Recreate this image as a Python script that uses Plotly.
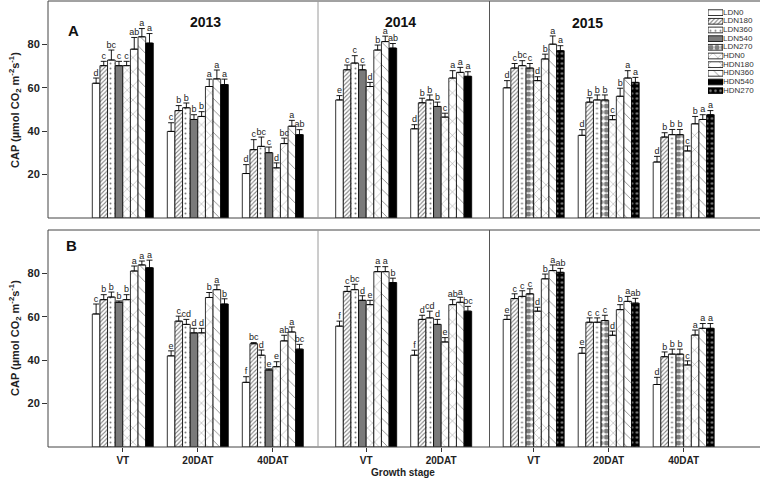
import plotly.graph_objects as go

# ---------------- data ----------------
stages_all = ["VT", "20DAT", "40DAT"]
years = ["2013", "2014", "2015"]
legend_names = ["LDN0", "LDN180", "LDN360", "LDN540", "LDN270",
                "HDN0", "HDN180", "HDN360", "HDN540", "HDN270"]
trt_1314 = ["LDN0", "LDN180", "LDN360", "LDN540", "HDN0", "HDN180", "HDN360", "HDN540"]
trt_15 = ["LDN0", "LDN180", "LDN360", "LDN270", "HDN0", "HDN180", "HDN360", "HDN270"]

# rows = growth stage, columns = treatment (order of trt list)
A2013_mean = [[62.1, 70.2, 72.8, 70.2, 70.2, 77.8, 83.5, 80.6],
              [39.9, 49.5, 50.8, 45.4, 46.8, 60.6, 64.1, 61.5],
              [20.5, 31.5, 33.0, 30.1, 23.1, 34.3, 42.3, 38.4]]
A2013_err = [[2.4, 2.0, 4.6, 2.0, 2.0, 5.4, 3.8, 4.4],
             [4.0, 2.3, 2.2, 2.2, 2.2, 3.4, 4.1, 2.5],
             [4.1, 4.6, 4.3, 2.6, 2.3, 2.5, 2.7, 2.3]]
A2013_let = [["d", "c", "bc", "c", "c", "ab", "a", "a"],
             ["c", "b", "b", "b", "b", "a", "a", "a"],
             ["d", "c", "bc", "c", "d", "bc", "a", "ab"]]

A2014_mean = [[54.4, 68.3, 71.4, 68.3, 60.6, 77.4, 81.3, 78.3],
              [41.1, 53.1, 54.4, 51.4, 46.5, 64.5, 67.1, 65.3]]
A2014_err = [[2.0, 2.2, 3.4, 2.2, 1.9, 2.3, 2.5, 2.1],
             [1.9, 2.1, 2.3, 2.0, 1.8, 3.4, 2.3, 2.1]]
A2014_let = [["e", "c", "c", "c", "d", "b", "a", "ab"],
             ["d", "b", "b", "b", "c", "a", "a", "a"]]

A2015_mean = [[60.0, 69.1, 70.2, 69.1, 63.3, 73.3, 80.1, 77.1],
              [38.1, 53.4, 54.4, 54.4, 45.3, 56.1, 64.5, 62.5],
              [25.8, 37.3, 38.4, 38.4, 30.9, 43.4, 45.4, 47.6]]
A2015_err = [[3.3, 2.1, 2.3, 2.1, 1.8, 2.2, 3.8, 2.3],
             [2.6, 2.0, 2.3, 2.3, 1.9, 3.7, 3.4, 2.3],
             [2.6, 2.0, 2.4, 2.4, 2.3, 3.4, 2.2, 1.9]]
A2015_let = [["d", "c", "bc", "c", "d", "b", "a", "a"],
             ["d", "b", "b", "b", "c", "b", "a", "a"],
             ["d", "b", "b", "b", "c", "b", "a", "a"]]

B2013_mean = [[61.3, 67.9, 69.1, 66.7, 67.9, 81.1, 83.9, 82.6],
              [42.0, 58.0, 56.5, 52.6, 52.6, 68.9, 72.5, 65.9],
              [29.8, 47.6, 42.3, 35.5, 37.0, 48.9, 53.0, 45.1]]
B2013_err = [[4.6, 2.3, 2.3, 0.6, 2.3, 2.3, 1.8, 3.5],
             [2.3, 2.3, 2.3, 2.1, 2.1, 2.3, 2.2, 2.4],
             [2.6, 0.5, 2.4, 0.5, 2.3, 2.6, 2.3, 2.2]]
B2013_let = [["c", "b", "b", "b", "b", "a", "a", "a"],
             ["e", "c", "cd", "d", "d", "b", "a", "b"],
             ["f", "bc", "d", "e", "e", "ab", "a", "bc"]]

B2014_mean = [[55.7, 71.7, 72.5, 67.6, 65.6, 80.8, 80.8, 75.8],
              [42.3, 58.8, 59.5, 56.5, 48.4, 65.6, 66.7, 62.6]]
B2014_err = [[2.3, 2.3, 2.5, 2.1, 2.0, 2.3, 2.3, 2.0],
             [2.3, 1.9, 3.1, 2.3, 2.0, 2.3, 2.3, 2.2]]
B2014_let = [["f", "c", "bc", "d", "e", "a", "a", "b"],
             ["f", "d", "cd", "d", "e", "ab", "a", "bc"]]

B2015_mean = [[58.8, 68.4, 69.4, 70.6, 62.6, 77.5, 81.3, 80.5],
              [43.2, 57.5, 57.5, 58.3, 51.5, 63.3, 67.1, 66.3],
              [28.8, 41.6, 42.8, 42.8, 37.8, 51.6, 54.7, 54.7]]
B2015_err = [[1.9, 2.2, 2.6, 2.3, 1.8, 2.2, 2.6, 1.8],
             [2.6, 2.0, 2.0, 2.4, 1.9, 2.3, 2.3, 2.2],
             [3.3, 2.2, 2.3, 2.3, 1.9, 2.3, 2.2, 2.2]]
B2015_let = [["e", "c", "c", "c", "d", "b", "a", "ab"],
             ["e", "c", "c", "c", "d", "b", "a", "ab"],
             ["d", "b", "b", "b", "c", "a", "a", "a"]]

y_ticks = [20, 40, 60, 80]

# ---------------- styles ----------------
FONT = "Arial, Liberation Sans, sans-serif"


def style(name):
    s = {
        "LDN0": dict(color="white"),
        "LDN180": dict(color="white", pattern=dict(shape="/", fgcolor="black", size=3,
                                                   solidity=0.35, fillmode="overlay")),
        "LDN360": dict(color="white", pattern=dict(shape=".", fgcolor="black", size=5,
                                                   solidity=0.12, fillmode="overlay")),
        "LDN540": dict(color="#7a7a7a"),
        "LDN270": dict(color="white", pattern=dict(shape=".", fgcolor="black", size=6,
                                                   solidity=0.6, fillmode="overlay")),
        "HDN0": dict(color="white", pattern=dict(shape="x", fgcolor="black", size=7,
                                                 solidity=0.1, fillmode="overlay")),
        "HDN180": dict(color="white", pattern=dict(shape="x", fgcolor="black", size=10,
                                                   solidity=0.08, fillmode="overlay")),
        "HDN360": dict(color="white", pattern=dict(shape="\\", fgcolor="black", size=8,
                                                   solidity=0.1, fillmode="overlay")),
        "HDN540": dict(color="black"),
        "HDN270": dict(color="black", pattern=dict(shape=".", fgcolor="white", size=5,
                                                   solidity=0.2, fillmode="overlay")),
    }[name]
    s["line"] = dict(color="black", width=0.8)
    return s


fig = go.Figure()

# layout geometry (pixels)
W, H = 760, 486
L, R, T, B = 48, 0, 1, 39
pw, ph = W - L - R, H - T - B
col_px = [(48, 318), (318, 489.5), (489.5, 760)]
centers_px = [122.8, 366.2, 533.7]   # first group centre of each year block
unit_px = 75.0                       # px per growth-stage slot
bar_w = 61.0 / 8 / unit_px


def xdom(a, b):
    return [(a - L) / pw, (b - L) / pw]


def ydom(top, bot):
    return [(H - B - bot) / ph, (H - B - top) / ph]


panels = {
    "A": dict(means=[A2013_mean, A2014_mean, A2015_mean],
              errs=[A2013_err, A2014_err, A2015_err],
              lets=[A2013_let, A2014_let, A2015_let],
              ydomain=ydom(1, 218), yname="y", xnum=[1, 2, 3]),
    "B": dict(means=[B2013_mean, B2014_mean, B2015_mean],
              errs=[B2013_err, B2014_err, B2015_err],
              lets=[B2013_let, B2014_let, B2015_let],
              ydomain=ydom(230, 447), yname="y2", xnum=[4, 5, 6]),
}

layout_axes = {}
for pname, p in panels.items():
    for yi in range(3):
        means, errs, lets = p["means"][yi], p["errs"][yi], p["lets"][yi]
        trts = trt_15 if yi == 2 else trt_1314
        nst = len(means)
        xn = p["xnum"][yi]
        xref = "x" if xn == 1 else f"x{xn}"
        tx, ty, tt = [], [], []
        for k, trt in enumerate(trts):
            xs = [g + (k - 3.5) * bar_w for g in range(nst)]
            ys = [means[g][k] for g in range(nst)]
            es = [errs[g][k] for g in range(nst)]
            fig.add_trace(go.Bar(
                x=xs, y=ys, width=bar_w, xaxis=xref, yaxis=p["yname"],
                marker=style(trt), showlegend=False, name=trt,
                error_y=dict(type="data", array=es, arrayminus=[0] * nst, symmetric=False,
                             width=3, thickness=0.9, color="black"),
            ))
            tx += xs
            ty += [ys[g] + es[g] for g in range(nst)]
            tt += [lets[g][k] for g in range(nst)]
        fig.add_trace(go.Scatter(
            x=tx, y=ty, text=tt, mode="text", textposition="top center",
            textfont=dict(family=FONT, size=9, color="#222"),
            xaxis=xref, yaxis=p["yname"], showlegend=False, cliponaxis=False,
        ))
        a, b = col_px[yi]
        lo = (a - centers_px[yi]) / unit_px
        hi = lo + (b - a) / unit_px
        xa = dict(domain=xdom(a, b), range=[lo, hi], anchor=p["yname"], automargin=False,
                  showgrid=False, zeroline=False, showline=False)
        if pname == "B":
            xa.update(tickvals=list(range(nst)), ticktext=stages_all[:nst],
                      ticks="outside", ticklen=4, tickcolor="#333",
                      tickfont=dict(family=FONT, size=10, color="#222", weight="bold"))
        else:
            xa.update(showticklabels=False, ticks="")
        layout_axes["xaxis" if xn == 1 else f"xaxis{xn}"] = xa
    layout_axes["yaxis" if p["yname"] == "y" else "yaxis2"] = dict(
        domain=p["ydomain"], range=[0, 100], anchor="x" if pname == "A" else "x4",
        tickvals=y_ticks, ticks="outside", ticklen=5, tickcolor="#333", automargin=False,
        tickfont=dict(family=FONT, size=11, color="#222", weight="bold"),
        showgrid=False, zeroline=False, showline=False)

# legend drawn as a small horizontal-bar chart with text labels
for name in legend_names:
    fig.add_trace(go.Bar(x=[1], y=[name], orientation="h", width=0.66, base=0,
                         marker=style(name), xaxis="x7", yaxis="y3", showlegend=False))
fig.add_trace(go.Scatter(x=[1.0] * len(legend_names), y=legend_names, text=legend_names,
                         mode="text", textposition="middle right", cliponaxis=False,
                         textfont=dict(family=FONT, size=8, color="#333"),
                         xaxis="x7", yaxis="y3", showlegend=False))
layout_axes["xaxis7"] = dict(domain=xdom(708, 723), range=[0, 1], anchor="y3",
                             visible=False, automargin=False)
layout_axes["yaxis3"] = dict(domain=ydom(8.3, 95), anchor="x7", visible=False,
                             type="category", categoryorder="array",
                             categoryarray=legend_names, autorange="reversed",
                             automargin=False)

fig.update_layout(**layout_axes)

# frames and separators
shapes = []
for (top, bot) in [(1, 218), (230, 447)]:
    y0, y1 = ydom(top, bot)
    shapes.append(dict(type="rect", xref="paper", yref="paper", x0=0, x1=1.002, y0=y0, y1=y1,
                       line=dict(color="#444", width=1)))
    shapes.append(dict(type="line", xref="paper", yref="paper", x0=xdom(318, 318)[0],
                       x1=xdom(318, 318)[0], y0=y0, y1=y1, line=dict(color="#9a9a9a", width=1)))
    shapes.append(dict(type="line", xref="paper", yref="paper", x0=xdom(489.5, 489.5)[0],
                       x1=xdom(489.5, 489.5)[0], y0=y0, y1=y1, line=dict(color="#555", width=1)))


def px_x(x):
    return (x - L) / pw


def px_y(y):
    return (H - B - y) / ph


ann = []
for yr, xc, yc in zip(years, [188, 400, 605], [12, 12, 13]):
    ann.append(dict(text=f"<b>{yr}</b>", x=px_x(xc), y=px_y(yc), xref="paper", yref="paper",
                    showarrow=False, font=dict(family=FONT, size=14, color="#111")))
ann.append(dict(text="<b>A</b>", x=px_x(66), y=px_y(20), xref="paper", yref="paper",
                showarrow=False, font=dict(family=FONT, size=15, color="#111")))
ann.append(dict(text="<b>B</b>", x=px_x(64), y=px_y(245), xref="paper", yref="paper",
                showarrow=False, font=dict(family=FONT, size=15, color="#111")))
ytitle = "<b>CAP (µmol CO<sub>2</sub> m<sup>-2</sup>s<sup>-1</sup>)</b>"
for yc in [110, 338]:
    ann.append(dict(text=ytitle, x=px_x(15), y=px_y(yc), xref="paper", yref="paper",
                    textangle=-90, showarrow=False, xanchor="center", yanchor="middle",
                    font=dict(family=FONT, size=11, color="#222")))
ann.append(dict(text="<b>Growth stage</b>", x=px_x(403), y=px_y(480), xref="paper",
                yref="paper", showarrow=False, font=dict(family=FONT, size=10, color="#222")))

fig.update_layout(
    template="none",
    width=W, height=H, autosize=False,
    margin=dict(l=L, r=R, t=T, b=B, pad=0),
    barmode="overlay",
    paper_bgcolor="white", plot_bgcolor="white",
    shapes=shapes, annotations=ann, showlegend=False,
    font=dict(family=FONT, color="#222"),
)

fig.write_html("out.html", config={"displayModeBar": False},
               post_script="document.body.style.margin='0';document.body.style.overflow='hidden';")
